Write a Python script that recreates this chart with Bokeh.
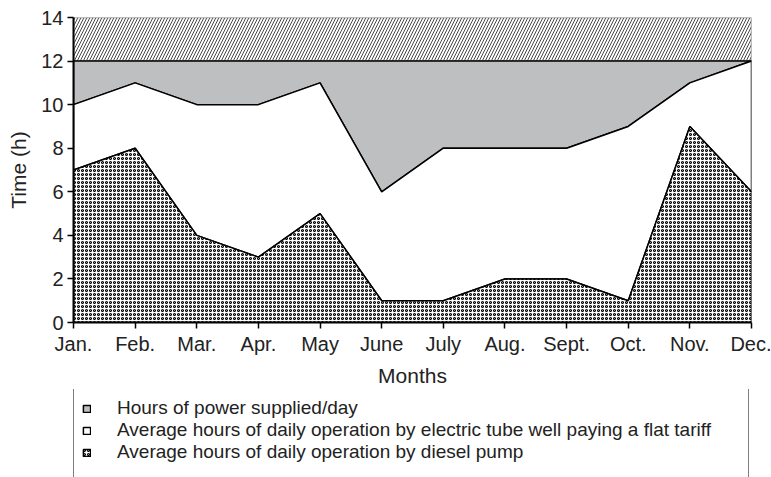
from bokeh.plotting import figure
from bokeh.layouts import column
from bokeh.models import FixedTicker, Legend, LegendItem, Range1d
from bokeh.embed import file_html
from bokeh.resources import INLINE

months = ["Jan.", "Feb.", "Mar.", "Apr.", "May", "June", "July", "Aug.", "Sept.", "Oct.", "Nov.", "Dec."]
power_supplied = [12, 12, 12, 12, 12, 12, 12, 12, 12, 12, 12, 12]
tube_well = [10, 11, 10, 10, 11, 6, 8, 8, 8, 9, 11, 12]
diesel = [7, 8, 4, 3, 5, 1, 1, 2, 2, 1, 9, 6]
day_hours = [14] * 12
y_ticks = [0, 2, 4, 6, 8, 10, 12, 14]
legend_labels = ["Hours of power supplied/day",
                 "Average hours of daily operation by electric tube well paying a flat tariff",
                 "Average hours of daily operation by diesel pump"]

x = list(range(len(months)))
xr = x[::-1]
zeros = [0] * len(months)

FONT = "Liberation Sans"
GREY = "#bebfc1"
TXT = "#222222"

POWER_STYLE = dict(fill_color=GREY, line_color="black", line_width=1.5)
TUBE_STYLE = dict(fill_color="white", line_color="black", line_width=1.5)
DIESEL_STYLE = dict(fill_color="white", hatch_pattern="o", hatch_color="black",
                    hatch_scale=4, hatch_weight=1.05, line_color="black", line_width=1.5)


def draw_areas(fig):
    r_power = fig.patch(x + xr, power_supplied + tube_well[::-1], **POWER_STYLE)
    r_tube = fig.patch(x + xr, tube_well + diesel[::-1], **TUBE_STYLE)
    r_diesel = fig.patch(x + xr, diesel + zeros, **DIESEL_STYLE)
    return r_power, r_tube, r_diesel


p = figure(width=771, height=389, output_backend="svg", toolbar_location=None,
           x_range=Range1d(0, 11), y_range=Range1d(0, 14),
           min_border_left=73, min_border_right=20, min_border_top=17, min_border_bottom=66)
p.outline_line_color = None
p.xgrid.visible = False
p.ygrid.visible = False

# hatched band 12-14 h
p.patch(x + xr, day_hours + power_supplied[::-1], fill_color="white",
        hatch_pattern="/", hatch_color="#333333", hatch_scale=6, hatch_weight=0.9,
        line_color="#888888", line_width=1.5)
draw_areas(p)

# axes
p.xaxis.ticker = FixedTicker(ticks=x)
p.xaxis.major_label_overrides = {i: m for i, m in enumerate(months)}
p.yaxis.ticker = FixedTicker(ticks=y_ticks)
for ax in (p.xaxis[0], p.yaxis[0]):
    ax.axis_line_color = "black"
    ax.axis_line_width = 2
    ax.major_tick_line_color = "black"
    ax.major_tick_line_width = 1.5
    ax.major_tick_in = 0
    ax.major_tick_out = 6
    ax.minor_tick_line_color = None
    ax.major_label_text_font = FONT
    ax.major_label_text_font_size = "20px"
    ax.major_label_text_color = TXT
    ax.axis_label_text_font = FONT
    ax.axis_label_text_font_size = "21px"
    ax.axis_label_text_font_style = "normal"
    ax.axis_label_text_color = TXT
p.xaxis.axis_label = "Months"
p.yaxis.axis_label = "Time (h)"
p.xaxis.major_label_standoff = 4
p.yaxis.major_label_standoff = 4
p.xaxis.axis_label_standoff = 6
p.yaxis.axis_label_standoff = 8

# legend panel (areas drawn out of view; only the legend shows)
p2 = figure(width=771, height=88, output_backend="svg", toolbar_location=None,
            x_range=Range1d(0, 11), y_range=Range1d(100, 101),
            x_axis_location=None, y_axis_location=None,
            min_border_left=0, min_border_right=0, min_border_top=0, min_border_bottom=0)
p2.grid.visible = False
p2.outline_line_color = None
g_power, g_tube, g_diesel = draw_areas(p2)
g_blank = p2.patch(x + xr, tube_well + diesel[::-1], fill_alpha=0, line_alpha=0)

legend = Legend(items=[
    LegendItem(label=legend_labels[0], renderers=[g_power]),
    LegendItem(label=legend_labels[1], renderers=[g_tube]),
    LegendItem(label=legend_labels[2], renderers=[g_diesel]),
    LegendItem(label=" ", renderers=[g_blank]),
], location=(0, -17))
legend.border_line_color = "black"
legend.border_line_width = 1.5
legend.padding = 8
legend.margin = 0
legend.spacing = 0
legend.glyph_width = 9
legend.glyph_height = 9
legend.label_height = 22
legend.label_standoff = 26
legend.label_width = 623
legend.label_text_font = FONT
legend.label_text_font_size = "19px"
legend.label_text_color = TXT
p2.add_layout(legend, "center")

layout = column(p, p2, spacing=0)
open("out.html", "w").write(file_html(layout, INLINE))
